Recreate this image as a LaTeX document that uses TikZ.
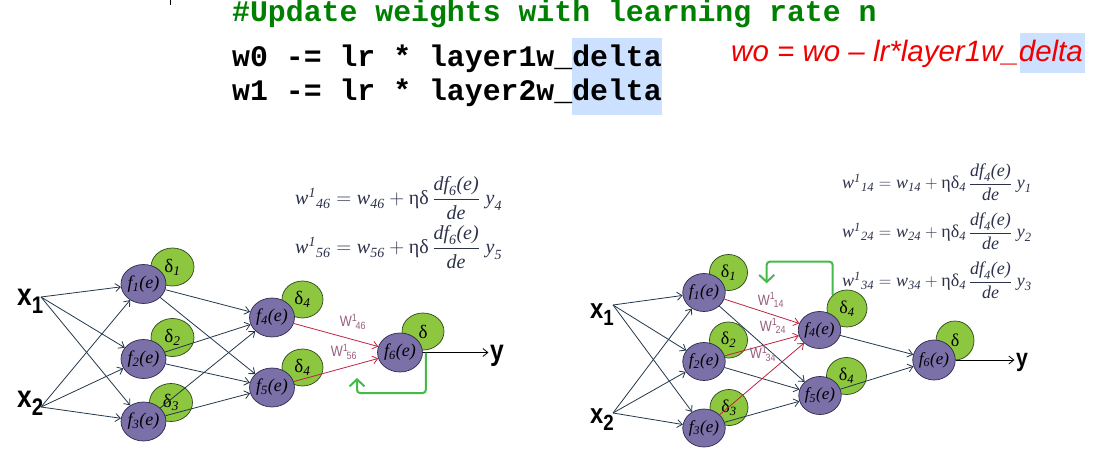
\documentclass[tikz,border=0pt]{standalone}
\usepackage{amsmath}
\usepackage{fontspec}
\setmainfont{Liberation Serif}
\newfontfamily\monofont{Liberation Mono}
\newfontfamily\arialfont{Liberation Sans}
\newfontfamily\labfont[FakeStretch=0.85]{Liberation Sans}
\newfontfamily\xfont[FakeStretch=0.85]{Liberation Sans}
\usetikzlibrary{shapes.geometric,arrows.meta}
\definecolor{codegreen}{RGB}{0,128,0}
\definecolor{hl}{RGB}{204,224,255}
\definecolor{redtxt}{RGB}{240,0,0}
\definecolor{pfill}{RGB}{123,112,168}
\definecolor{pline}{RGB}{45,42,75}
\definecolor{gfill}{RGB}{141,198,63}
\definecolor{gline}{RGB}{45,70,30}
\definecolor{cdark}{RGB}{35,55,75}
\definecolor{cred}{RGB}{190,35,65}
\definecolor{labc}{RGB}{150,95,125}
\definecolor{fbgreen}{RGB}{70,185,75}
\definecolor{eqc}{RGB}{45,50,75}
\newcommand{\fl}[1]{f\textsubscript{#1}(e)}
\newcommand{\dl}[1]{δ\textsubscript{\itshape #1}}
\newcommand{\wlab}[2]{W$^{\text{#1}}\mkern-2mu{}_{\text{#2}}$}
% formula: weight, subscript, delta-sub, f-sub, y-sub
\newcommand{\wf}[4]{$\textit{w}^{\textit{1}}{}_{\textit{#1}} = \textit{w}_{\textit{#1}} + \text{ηδ}#2\,\dfrac{\textit{df}_{\textit{#3}}\textit{(e)}}{\textit{de}}\;\textit{y}_{\textit{#4}}$}
\tikzset{
 pL/.style={ellipse, draw=pline, fill=pfill, line width=0.7pt, inner sep=0pt, minimum width=43pt, minimum height=39pt, font=\fontsize{18}{18}\selectfont\itshape},
 gL/.style={ellipse, draw=gline, fill=gfill, line width=0.7pt, inner sep=0pt, minimum width=43pt, minimum height=38pt, font=\fontsize{19}{19}\selectfont},
 pR/.style={pL, minimum width=39pt, minimum height=38pt, font=\fontsize{17}{17}\selectfont\itshape},
 gR/.style={gL, minimum width=38pt, minimum height=36pt, font=\fontsize{18}{18}\selectfont},
 conn/.style={draw=cdark, line width=0.8pt, -{Straight Barb[length=5pt,width=8pt]}},
 rconn/.style={conn, draw=cred},
 fb/.style={draw=fbgreen, line width=2pt, rounded corners=3pt, -{Straight Barb[length=7pt,width=15pt]}},
 lab/.style={text=labc, inner sep=0pt, font=\labfont\fontsize{15}{15}\selectfont},
 eqL/.style={text=eqc, inner sep=0pt, anchor=base west, font=\fontsize{20}{23}\selectfont},
 eqR/.style={text=eqc, inner sep=0pt, anchor=base west, font=\fontsize{18}{21}\selectfont},
 xlabL/.style={inner sep=0pt, anchor=base west, font=\xfont\bfseries\fontsize{31}{31}\selectfont},
 xlabR/.style={inner sep=0pt, anchor=base west, font=\xfont\bfseries\fontsize{28}{28}\selectfont},
 ylabL/.style={inner sep=1.5pt, font=\xfont\bfseries\fontsize{29}{29}\selectfont},
 ylabR/.style={inner sep=1.5pt, font=\xfont\bfseries\fontsize{25}{25}\selectfont},
 code/.style={inner sep=0pt, anchor=base west, font=\monofont\bfseries\fontsize{29.83}{32}\selectfont},
}
\begin{document}
\begin{tikzpicture}[x=1pt,y=-1pt]
\useasboundingbox (0,0) rectangle (1103,449);
% highlights
\fill[hl] (571.7,37.7) rectangle (661.7,115);
\fill[hl] (1020,33) rectangle (1085,72.7);
\draw[line width=0.8pt] (170.5,0) -- (170.5,5);
% code text
\node[code, text=codegreen] (cmt) at (232,22) {\#Update weights with learning rate n};
\node[code] (ln1) at (232,67) {w0 -= lr * layer1w\_delta};
\node[code] (ln2) at (232,101) {w1 -= lr * layer2w\_delta};
\node[inner sep=0pt, anchor=base west, text=redtxt, font=\arialfont\itshape\fontsize{29.5}{30}\selectfont] (red) at (731,62) {wo = wo – lr*layer1w\_delta};
% formulas left
\node[eqL] (eqA1) at (295,205) {\wf{46}{}{6}{4}};
\node[eqL] (eqA2) at (295,254) {\wf{56}{}{6}{5}};
% formulas right
\node[eqR] (eqB1) at (842,188.5) {\wf{14}{\textsubscript{\itshape 4}}{4}{1}};
\node[eqR] (eqB2) at (842,237.5) {\wf{24}{\textsubscript{\itshape 4}}{4}{2}};
\node[eqR] (eqB3) at (842,286.5) {\wf{34}{\textsubscript{\itshape 4}}{4}{3}};
% ---------- left network ----------
\node[xlabL] (XA1) at (17,305) {x\raisebox{-8pt}{\fontsize{24}{24}\selectfont 1}};
\node[xlabL] (XA2) at (17,407) {x\raisebox{-8pt}{\fontsize{24}{24}\selectfont 2}};
\coordinate (xA1) at (41,297);
\coordinate (xA2) at (41,407);
\coordinate (fbA) at (357,378);
\node[gL] (dA1) at (172.5,267) {\dl{1}};
\node[gL] (dA2) at (172.5,337.5) {\dl{2}};
\node[gL] (dA3) at (171,402.5) {\dl{3}};
\node[gL, minimum width=41pt, minimum height=37pt] (dA4) at (302.5,299.5) {\dl{4}};
\node[gL, minimum width=41pt, minimum height=37pt] (dA5) at (302.5,367.5) {\dl{4}};
\node[gL, minimum width=42pt, minimum height=37pt] (dA6) at (423,331.5) {δ};
\node[pL] (fA1) at (143.5,284) {\fl{1}};
\node[pL] (fA2) at (143.5,359) {\fl{2}};
\node[pL] (fA3) at (143.5,421.5) {\fl{3}};
\node[pL, minimum width=41pt] (fA4) at (272,317.5) {\fl{4}};
\node[pL, minimum width=41pt] (fA5) at (272,387.5) {\fl{5}};
\node[pL, minimum width=44pt] (fA6) at (400,352.5) {\fl{6}};
\node[ylabL] (yA) at (497,356) {y};
\foreach \i in {1,2,3}{
  \draw[conn] (xA1) -- (fA\i);
  \draw[conn] (xA2) -- (fA\i);
  \draw[conn] (fA\i) -- (fA4);
  \draw[conn] (fA\i) -- (fA5);
}
\draw[rconn] (fA4) -- (fA6);
\draw[rconn] (fA5) -- (fA6);
\draw[conn, draw=black] (fA6) -- (fA6 -| yA.west);
\draw[fb] ([xshift=3pt]fA6.east) |- ([yshift=-15pt]fbA) -- (fbA);
\node[lab] (wA46) at (353,322) {\wlab{1}{46}};
\node[lab] (wA56) at (344,352) {\wlab{1}{56}};
% ---------- right network ----------
\node[xlabR] (XB1) at (590,318) {x\raisebox{-7pt}{\fontsize{22}{22}\selectfont 1}};
\node[xlabR] (XB2) at (590,423) {x\raisebox{-7pt}{\fontsize{22}{22}\selectfont 2}};
\coordinate (xB1) at (613,305);
\coordinate (xB2) at (613,413);
\coordinate (fbB) at (766.7,283.3);
\node[gR] (dB1) at (728.5,272.5) {\dl{1}};
\node[gR] (dB2) at (728.5,340) {\dl{2}};
\node[gR] (dB3) at (729,407.5) {\dl{3}};
\node[gR, minimum width=40pt, minimum height=37pt] (dB4) at (847,308.5) {\dl{4}};
\node[gR, minimum width=40pt, minimum height=37pt] (dB5) at (846.5,376) {\dl{4}};
\node[gR, minimum width=38pt, minimum height=39pt] (dB6) at (955,340.5) {δ};
\node[pR] (fB1) at (704,292.5) {\fl{1}};
\node[pR] (fB2) at (704,361.5) {\fl{2}};
\node[pR] (fB3) at (704,428) {\fl{3}};
\node[pR, minimum height=37pt] (fB4) at (819.5,330) {\fl{4}};
\node[pR, minimum height=38pt] (fB5) at (820,395.5) {\fl{5}};
\node[pR, minimum width=38pt, minimum height=40pt] (fB6) at (934,360) {\fl{6}};
\node[ylabR] (yB) at (1022,362) {y};
\foreach \i in {1,2,3}{
  \draw[conn] (xB1) -- (fB\i);
  \draw[conn] (xB2) -- (fB\i);
  \draw[conn] (fB\i) -- (fB5);
  \draw[rconn] (fB\i) -- (fB4);
}
\draw[conn] (fB4) -- (fB6);
\draw[conn] (fB5) -- (fB6);
\draw[conn, draw=black] (fB6) -- (fB6 -| yB.west);
\draw[fb] (dB4.north west) |- ([yshift=21.6pt]fbB) -- (fbB);
\node[lab] (wB14) at (771,300) {\wlab{1}{14}};
\node[lab] (wB24) at (773,326) {\wlab{1}{24}};
\node[lab] (wB34) at (763,354) {\wlab{1}{34}};
\end{tikzpicture}
\end{document}
